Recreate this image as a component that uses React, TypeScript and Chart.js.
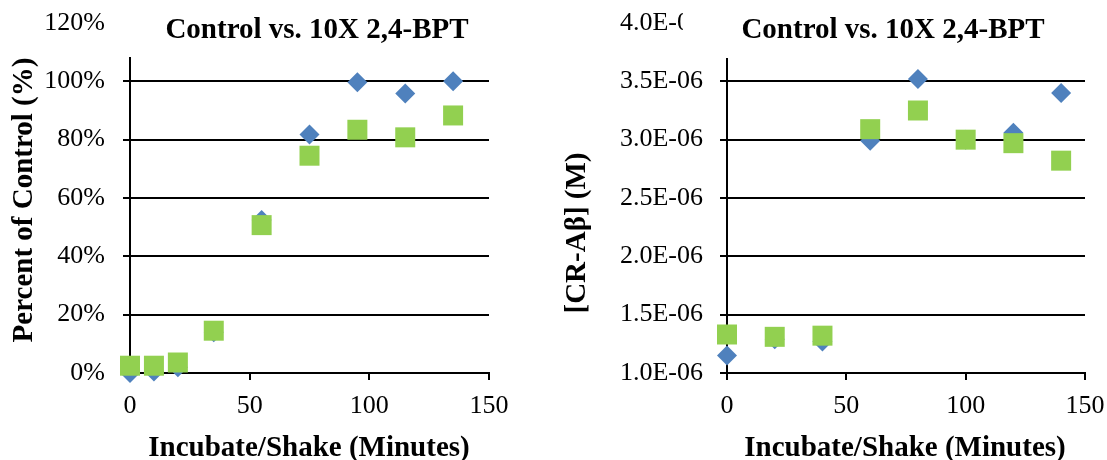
import React, { useEffect, useRef } from 'react';
import { Chart, registerables } from 'chart.js';

Chart.register(...registerables);

// ---- data ----
const leftMinutes = [0, 10, 20, 35, 55, 75, 95, 115, 135];
const leftControl = [0, 0.5, 2, 14, 52.5, 81.8, 99.7, 95.8, 100];
const leftBPT = [2.5, 2.5, 3.6, 14.5, 50.7, 74.5, 83.4, 80.8, 88.3];

const rightMinutes = [0, 20, 40, 60, 80, 100, 120, 140];
const rightControl = [1.15e-6, 1.29e-6, 1.27e-6, 2.99e-6, 3.52e-6, 3.0e-6, 3.06e-6, 3.4e-6];
const rightBPT = [1.33e-6, 1.31e-6, 1.32e-6, 3.09e-6, 3.25e-6, 3.0e-6, 2.97e-6, 2.82e-6];

const xTicks = [0, 50, 100, 150];
const leftYTicks = [0, 20, 40, 60, 80, 100, 120];
const rightYTicks = [1.0e-6, 1.5e-6, 2.0e-6, 2.5e-6, 3.0e-6, 3.5e-6, 4.0e-6];

const chartTitle = 'Control vs. 10X 2,4-BPT';
const xTitle = 'Incubate/Shake (Minutes)';
const leftYTitle = 'Percent of Control (%)';
const rightYTitle = '[CR-A\u03B2] (M)';
const controlLabel = 'Control';
const bptLabel = '10X 2,4-BPT';

const FONT = '"Liberation Serif", "Times New Roman", serif';
const BLUE = '#4F81BD';
const GREEN = '#92D050';

type Layout = {
  canvasWidth: number;
  yAxisWidth: number;
  padRight: number;
  padTop: number;
  boxLeft: number;
  boxBottom: number;
  titleX: number;
  xTitleX: number;
  yTitleX: number;
  yTitleY: number;
  yTitle: string;
  tickPad: number;
};

function buildConfig(
  xs: number[],
  control: number[],
  bpt: number[],
  yTicks: number[],
  fmt: (v: number) => string,
  L: Layout
): any {
  const decor = {
    id: 'decor',
    afterDraw(chart: any) {
      const ctx = chart.ctx;
      ctx.save();
      ctx.fillStyle = '#ffffff';
      ctx.fillRect(L.boxLeft, 0, chart.width - L.boxLeft, L.boxBottom);
      ctx.fillStyle = '#000000';
      ctx.font = `bold 29px ${FONT}`;
      ctx.textAlign = 'center';
      ctx.textBaseline = 'alphabetic';
      ctx.fillText(chartTitle, L.titleX, 38);
      ctx.fillText(xTitle, L.xTitleX, 456);
      ctx.translate(L.yTitleX, L.yTitleY);
      ctx.rotate(-Math.PI / 2);
      ctx.fillText(L.yTitle, 0, 0);
      ctx.restore();
    },
  };

  return {
    type: 'scatter',
    data: {
      datasets: [
        {
          label: controlLabel,
          data: xs.map((x, i) => ({ x, y: control[i] })),
          pointStyle: 'rectRot',
          pointRadius: 10,
          pointHoverRadius: 10,
          backgroundColor: BLUE,
          borderColor: BLUE,
          borderWidth: 0,
          order: 2,
          clip: false,
        },
        {
          label: bptLabel,
          data: xs.map((x, i) => ({ x, y: bpt[i] })),
          pointStyle: 'rect',
          pointRadius: 14.14,
          pointHoverRadius: 14.14,
          backgroundColor: GREEN,
          borderColor: GREEN,
          borderWidth: 0,
          order: 1,
          clip: false,
        },
      ],
    },
    options: {
      responsive: false,
      animation: false,
      events: [],
      layout: { padding: { top: L.padTop, right: L.padRight, bottom: 0, left: 0 } },
      plugins: { legend: { display: false }, tooltip: { enabled: false }, title: { display: false } },
      scales: {
        x: {
          type: 'linear',
          min: xTicks[0],
          max: xTicks[xTicks.length - 1],
          afterBuildTicks: (s: any) => {
            s.ticks = xTicks.map((v) => ({ value: v }));
          },
          afterFit: (s: any) => {
            s.height = 87;
            s.paddingLeft = 0;
            s.paddingRight = 0;
          },
          grid: { drawOnChartArea: false, drawTicks: true, tickLength: 7, color: '#000', lineWidth: 2 },
          border: { display: true, color: '#000', width: 2 },
          ticks: {
            color: '#000',
            font: { family: FONT, size: 26 },
            padding: 11,
            maxRotation: 0,
            autoSkip: false,
            callback: (v: any) => String(v),
          },
        },
        y: {
          type: 'linear',
          min: yTicks[0],
          max: yTicks[yTicks.length - 1],
          afterBuildTicks: (s: any) => {
            s.ticks = yTicks.map((v) => ({ value: v }));
          },
          afterFit: (s: any) => {
            s.width = L.yAxisWidth;
            s.paddingTop = 0;
            s.paddingBottom = 0;
          },
          grid: { drawOnChartArea: true, drawTicks: true, tickLength: 7, color: '#000', lineWidth: 2 },
          border: { display: true, color: '#000', width: 2 },
          ticks: {
            color: '#000',
            font: { family: FONT, size: 26 },
            padding: L.tickPad,
            autoSkip: false,
            callback: (v: any) => fmt(Number(v)),
          },
        },
      },
    },
    plugins: [decor],
  };
}

function ChartCanvas(props: { left: number; width: number; make: () => any }) {
  const ref = useRef<HTMLCanvasElement>(null);
  useEffect(() => {
    const chart = new Chart(ref.current as HTMLCanvasElement, props.make());
    return () => chart.destroy();
  }, []);
  return (
    <canvas
      ref={ref}
      width={props.width}
      height={460}
      style={{ position: 'absolute', left: props.left, top: 0, width: props.width, height: 460 }}
    />
  );
}

const LEFT_W = 540;
const RIGHT_LEFT = 540;
const RIGHT_W = 567;

export default function App() {
  return (
    <div style={{ position: 'absolute', left: 0, top: 0, width: 1107, height: 460, background: '#fff', overflow: 'hidden' }}>
      <ChartCanvas
        left={0}
        width={LEFT_W}
        make={() =>
          buildConfig(leftMinutes, leftControl, leftBPT, leftYTicks, (v) => `${Math.round(v)}%`, {
            canvasWidth: LEFT_W,
            yAxisWidth: 130,
            padRight: LEFT_W - 489,
            padTop: 23,
            boxLeft: 108,
            boxBottom: 57,
            titleX: 317,
            xTitleX: 309,
            yTitleX: 32,
            yTitleY: 200,
            yTitle: leftYTitle,
            tickPad: 18,
          })
        }
      />
      <ChartCanvas
        left={RIGHT_LEFT}
        width={RIGHT_W}
        make={() =>
          buildConfig(rightMinutes, rightControl, rightBPT, rightYTicks, (v) => `${(v * 1e6).toFixed(1)}E-06`, {
            canvasWidth: RIGHT_W,
            yAxisWidth: 727 - RIGHT_LEFT,
            padRight: RIGHT_W - (1085 - RIGHT_LEFT),
            padTop: 23,
            boxLeft: 683 - RIGHT_LEFT,
            boxBottom: 58,
            titleX: 893 - RIGHT_LEFT,
            xTitleX: 905 - RIGHT_LEFT,
            yTitleX: 585 - RIGHT_LEFT,
            yTitleY: 233,
            yTitle: rightYTitle,
            tickPad: 17,
          })
        }
      />
    </div>
  );
}
